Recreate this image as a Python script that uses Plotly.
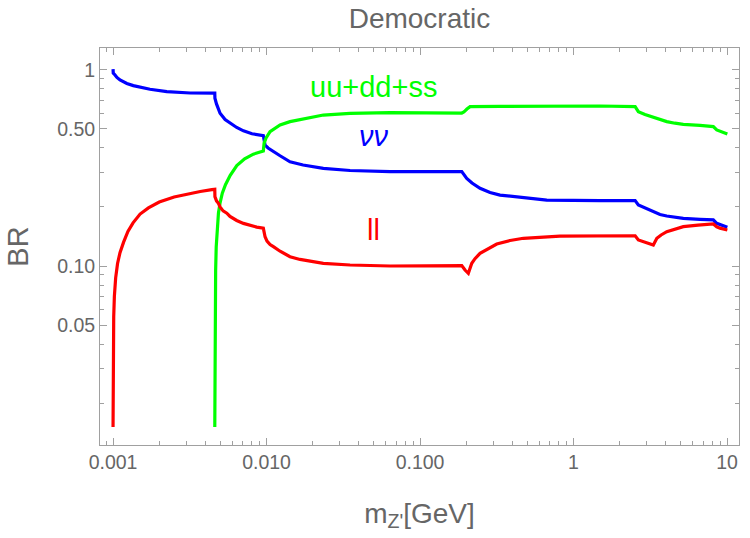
import math
import plotly.graph_objects as go

# ---- data (m_Z' in GeV, branching ratios) ----
nu_x = [0.001, 0.001003, 0.00103, 0.00106, 0.00111, 0.00123, 0.001355, 0.00152, 0.00174,
        0.00224, 0.00318, 0.0046, 0.00461, 0.00472, 0.00483, 0.00498, 0.00537, 0.00578,
        0.00639, 0.00707, 0.00804, 0.00953, 0.00978, 0.01023, 0.01108, 0.01225, 0.01422,
        0.0173, 0.02344, 0.035, 0.0638, 0.187, 0.2015, 0.218, 0.246, 0.2857, 0.332,
        0.4057, 0.521, 0.669, 1.489, 2.52, 2.644, 2.88, 3.15, 3.40, 3.66, 4.05, 5.19,
        6.67, 8.14, 8.57, 10.05]
nu_y = [1.01, 0.965, 0.943, 0.916, 0.889, 0.853, 0.832, 0.814, 0.797,
        0.775, 0.763, 0.761, 0.717, 0.671, 0.636, 0.601, 0.559, 0.535,
        0.509, 0.489, 0.4726, 0.462, 0.414, 0.400, 0.383, 0.365, 0.340,
        0.3276, 0.315, 0.307, 0.303, 0.303, 0.280, 0.265, 0.249, 0.237, 0.230,
        0.226, 0.221, 0.217, 0.2155, 0.2155, 0.205, 0.199, 0.193, 0.187, 0.183, 0.180, 0.175,
        0.173, 0.172, 0.165, 0.1575]

q_x = [0.0046, 0.00461, 0.00463, 0.00466, 0.0047, 0.00476, 0.00486, 0.00498, 0.00515,
       0.0054, 0.0058, 0.0064, 0.0072, 0.0082, 0.00953, 0.00964, 0.00993, 0.01054,
       0.01135, 0.01225, 0.01422, 0.0178, 0.02344, 0.035, 0.0638, 0.187, 0.193, 0.202,
       0.2118, 0.332, 0.816, 1.489, 2.52, 2.644, 2.92, 3.31, 3.66, 4.05, 4.58, 5.19,
       6.67, 8.14, 8.57, 10.05]
q_y = [0.0151, 0.04, 0.07, 0.095, 0.125, 0.155, 0.186, 0.210, 0.235,
       0.260, 0.290, 0.325, 0.352, 0.372, 0.386, 0.423, 0.450, 0.485,
       0.506, 0.524, 0.545, 0.566, 0.589, 0.600, 0.606, 0.603, 0.610, 0.632,
       0.650, 0.652, 0.655, 0.655, 0.650, 0.613, 0.593, 0.574, 0.556, 0.545, 0.535, 0.528,
       0.521, 0.514, 0.494, 0.471]

l_x = [0.001, 0.001002, 0.001005, 0.00101, 0.00102, 0.00104, 0.00107, 0.00111, 0.00117,
       0.00125, 0.00135, 0.0015, 0.0017, 0.002, 0.0025, 0.003, 0.0037, 0.0044, 0.0046,
       0.00461, 0.00472, 0.00486, 0.00498, 0.00521, 0.00551, 0.00578, 0.00639, 0.00707,
       0.00781, 0.00863, 0.00953, 0.00978, 0.01007, 0.01054, 0.01108, 0.01225, 0.01422,
       0.01652, 0.02344, 0.035, 0.0638, 0.1349, 0.187, 0.1963, 0.2064, 0.2173, 0.228,
       0.246, 0.277, 0.316, 0.386, 0.471, 0.816, 1.489, 2.52, 2.644, 2.92, 3.31, 3.49,
       3.72, 4.05, 4.58, 5.19, 6.47, 8.14, 8.57, 9.0, 10.05]
l_y = [0.0151, 0.03, 0.042, 0.055, 0.070, 0.087, 0.103, 0.117, 0.132,
       0.150, 0.166, 0.184, 0.198, 0.212, 0.225, 0.232, 0.240, 0.245, 0.246,
       0.226, 0.215, 0.209, 0.200, 0.191, 0.186, 0.179, 0.1707, 0.165,
       0.161, 0.158, 0.156, 0.141, 0.134, 0.1288, 0.1255, 0.119, 0.1115,
       0.108, 0.1032, 0.1012, 0.100, 0.1005, 0.1005, 0.0954, 0.0918, 0.1032, 0.109,
       0.116, 0.1228, 0.1295, 0.135, 0.1385, 0.142, 0.1427, 0.1427, 0.1358, 0.1318, 0.128, 0.1385,
       0.144, 0.1496, 0.1548, 0.1587, 0.1618, 0.1638, 0.1585, 0.156, 0.1527]

x_ticks = [0.001, 0.01, 0.1, 1, 10]
x_ticktext = ["0.001", "0.010", "0.100", "1", "10"]
y_ticks = [0.05, 0.1, 0.5, 1]
y_ticktext = ["0.05", "0.10", "0.50", "1"]

labels = [("uu+dd+ss", 0.0501, 0.819, "#00FF00"),
          ("<i>νν</i>", 0.0505, 0.461, "#0000FF"),
          ("ll", 0.0501, 0.153, "#FF0000")]

x_minor = [m * 10 ** e for e in range(-4, 2) for m in range(2, 10)]
y_minor = [m * 10 ** e for e in range(-2, 1) for m in range(2, 10)]
y_minor = [v for v in y_minor if abs(v - 0.05) > 1e-9 and abs(v - 0.5) > 1e-9]

FONT = "Liberation Sans, Arial, Helvetica, sans-serif"
GRAY = "#666666"
LINE = "#a0a0a0"

fig = go.Figure()
fig.add_trace(go.Scatter(x=nu_x, y=nu_y, mode="lines", line=dict(color="#0000FF", width=3.2)))
fig.add_trace(go.Scatter(x=q_x, y=q_y, mode="lines", line=dict(color="#00FF00", width=3.2)))
fig.add_trace(go.Scatter(x=l_x, y=l_y, mode="lines", line=dict(color="#FF0000", width=3.2)))

for txt, xv, yv, col in labels:
    fig.add_annotation(x=math.log10(xv), y=math.log10(yv), xref="x", yref="y", text=txt,
                       showarrow=False, font=dict(color=col, size=29, family=FONT))

axis_common = dict(type="log", showgrid=False, zeroline=False, showline=True, mirror="ticks",
                   linecolor=LINE, linewidth=1, ticks="inside", tickcolor=LINE, ticklen=7,
                   tickwidth=1, tickfont=dict(size=19.5, color=GRAY, family=FONT),
                   tickmode="array")

fig.update_xaxes(**axis_common, range=[-3.085, 1.078], tickvals=x_ticks, ticktext=x_ticktext,
                 minor=dict(tickmode="array", tickvals=x_minor, ticks="inside", ticklen=4,
                            tickcolor=LINE),
                 title=dict(text="m<sub>Z'</sub>[GeV]", font=dict(size=28, color=GRAY, family=FONT),
                            standoff=30))
fig.update_yaxes(**axis_common, range=[-1.913, 0.112], tickvals=y_ticks, ticktext=y_ticktext,
                 minor=dict(tickmode="array", tickvals=y_minor, ticks="inside", ticklen=4,
                            tickcolor=LINE),
                 title=dict(text="BR", font=dict(size=29, color=GRAY, family=FONT),
                            standoff=19))

fig.update_layout(
    width=750, height=538,
    margin=dict(l=100, r=11, t=48, b=93),
    paper_bgcolor="white", plot_bgcolor="white",
    showlegend=False,
    title=dict(text="Democratic", x=0.5593, xanchor="center", y=0.9665, yanchor="middle",
               font=dict(size=28, color=GRAY, family=FONT)),
)

fig.write_html("out.html")
